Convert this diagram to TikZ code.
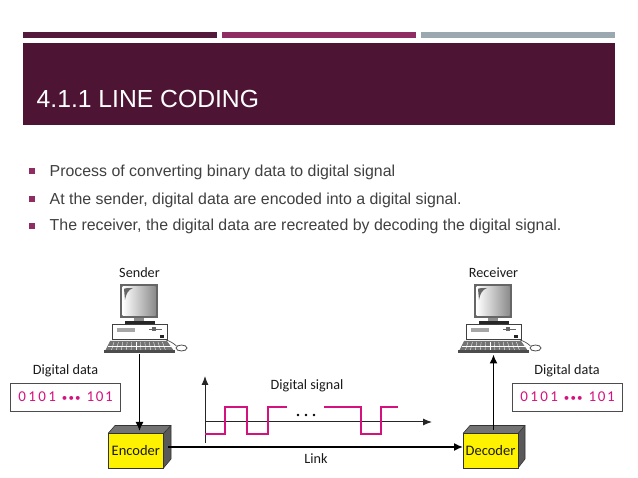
\documentclass[tikz,border=0pt]{standalone}
\usepackage{fontspec}
\setmainfont{Liberation Sans}
\newfontfamily\figfont{Carlito}
\usetikzlibrary{arrows.meta}
\definecolor{plum}{HTML}{4D1434}
\definecolor{plumbar}{HTML}{541A3C}
\definecolor{rose}{HTML}{8E2C63}
\definecolor{steel}{HTML}{9BA8B0}
\definecolor{bodytext}{HTML}{404040}
\definecolor{pinkline}{HTML}{D4127F}
\definecolor{boxyellow}{HTML}{FFF200}
\definecolor{figtext}{HTML}{1A1A1A}
\newcommand{\datatext}{0\hspace{2.4pt}1\hspace{2.4pt}0\hspace{2.4pt}1\hspace{6pt}{\fontsize{11}{11}\selectfont •\hspace{1.2pt}•\hspace{1.2pt}•}\hspace{6pt}1\hspace{1.6pt}0\hspace{1.6pt}1}
\tikzset{
  x=1pt,y=-1pt,
  bullettext/.style={anchor=west,inner sep=0pt,text=bodytext,font=\fontsize{15.9}{18}\selectfont},
  bulletmark/.style={fill=rose,draw=none,minimum size=6pt,inner sep=0pt},
  figlabel/.style={inner sep=0pt,text=figtext,font=\figfont\fontsize{14.2}{16}\selectfont},
  databox/.style={draw=black!70,line width=.8pt,minimum width=110pt,minimum height=28pt,inner sep=0pt,text=pinkline,font=\figfont\fontsize{15}{16}\selectfont},
  coder/.style={draw=black!80,line width=.8pt,fill=boxyellow,minimum width=55pt,minimum height=35pt,inner sep=0pt,text=figtext,font=\figfont\fontsize{14.5}{16}\selectfont},
  conn/.style={black,line width=1.5pt,-{Latex[length=9pt,width=8pt]}},
  thinconn/.style={black!85,line width=1pt,-{Latex[length=9pt,width=7pt]}},
  wave/.style={pinkline,line width=2pt}
}
\newcommand{\computer}[2]{%
 \begin{scope}[shift={(#1,0)}]
  \fill[black!60] (120,284) rectangle (158,318);
  \shade[left color=white,right color=black!45] (122.5,287) rectangle (155.5,316);
  \fill[black!60] (124,289) .. controls (124,288) and (130,288) .. (133,288) .. controls (128,290) and (126,294) .. (125,300) -- cycle;
  \fill[black!45] (134,318) rectangle (144,322);
  \fill[black!85] (125,321.5) rectangle (155,324.5);
  \draw[black!75,fill=white,line width=.9pt] (112,324) rectangle (167.5,339.5);
  \fill[black!35] (117,328) rectangle (135,332);
  \draw[black!60,line width=1pt] (149,329.5) -- (162,329.5);
  \fill[black!60] (152,327.5) rectangle (156,331.5);
  \fill[black!85] (160,335) rectangle (164,338);
  \fill[black!55] (110,341) -- (167,341) -- (174,351) -- (105,351) -- cycle;
  \foreach \k in {0,...,11}{\draw[white,line width=.35pt] (114+\k*4.4,342) -- (111.5+\k*4.9,350);}
  \draw[white,line width=.35pt] (108,346) -- (171,346);
  \fill[black!70] (104,350) rectangle (175,353.5);
  \draw[black!70,line width=.8pt,fill=white] (181.5,348) ellipse (5.5pt and 3pt);
  \draw[black!70,line width=.7pt] (166,340) .. controls (170,341) and (173,343) .. (176.5,346);
  \coordinate (#2) at (139.5,354.5);
 \end{scope}}
\begin{document}
\begin{tikzpicture}
\useasboundingbox (0,0) rectangle (638,478);
\fill[white] (0,0) rectangle (638,478);
\fill[plumbar] (23,32) rectangle (217,38);
\fill[rose] (222,32) rectangle (416,38);
\fill[steel] (421,32) rectangle (615,38);
\fill[plum] (23,43) rectangle (615,125.5);
\node[anchor=base west,inner sep=0pt,text=white,font=\fontsize{24.7}{28}\selectfont] (title) at (36.5,107.5) {4.1.1 LINE CODING};

\node[bulletmark] (b1) at (32,171) {};
\node[bulletmark] (b2) at (32,199.5) {};
\node[bulletmark] (b3) at (32,226) {};
\node[bullettext] (t1) at (49.5,172) {Process of converting binary data to digital signal};
\node[bullettext] (t2) at (49.5,200) {At the sender, digital data are encoded into a digital signal.};
\node[bullettext] (t3) at (49.5,226.5) {The receiver, the digital data are recreated by decoding the digital signal.};

\node[figlabel] (sender) at (139.5,273) {Sender};
\node[figlabel] (receiver) at (493.5,273) {Receiver};
\computer{0}{senderpc}
\computer{354}{receiverpc}

\node[figlabel] (ddl) at (65.5,371) {Digital data};
\node[figlabel] (ddr) at (567,371) {Digital data};
\node[databox] (boxl) at (65.5,397) {\datatext};
\node[databox] (boxr) at (567.5,397) {\datatext};

% Encoder / decoder
\fill[black!55] (108,433.5) -- (115,425.5) -- (171,425.5) -- (163.5,433.5) -- cycle;
\fill[black!65] (163.5,433.5) -- (171,425.5) -- (171,459) -- (163.5,468) -- cycle;
\draw[black!80,line width=.6pt] (108,433.5) -- (115,425.5) -- (171,425.5) -- (171,459) -- (163.5,468);
\draw[black!80,line width=.6pt] (171,425.5) -- (163.5,433.5);
\node[coder] (enc) at (135.8,450.8) {Encoder};
\fill[black!55] (463,433.5) -- (470,425.5) -- (525,425.5) -- (518,433.5) -- cycle;
\fill[black!65] (518,433.5) -- (525,425.5) -- (525,459) -- (518,468) -- cycle;
\draw[black!80,line width=.6pt] (463,433.5) -- (470,425.5) -- (525,425.5) -- (525,459) -- (518,468);
\draw[black!80,line width=.6pt] (525,425.5) -- (518,433.5);
\node[coder] (dec) at (490.5,450.8) {Decoder};

\coordinate (enctop) at (139.5,431);
\coordinate (dectop) at (493.5,430);
\coordinate (linkstart) at (168,447);
\coordinate (linkend) at (463,447);
\draw[conn] (senderpc) -- (enctop);
\draw[conn] (dectop) -- (receiverpc);
\draw[conn] (linkstart) -- (linkend);

% Signal
\coordinate (origin) at (205,443);
\coordinate (axtop) at (205,376);
\coordinate (axend) at (432,422);
\coordinate (axstart) at (205,422);
\draw[thinconn] (origin) -- (axtop);
\draw[thinconn] (axstart) -- (axend);
\draw[wave] (205,434) -- (225,434) -- (225,407) -- (246.5,407) -- (246.5,434) -- (267.5,434) -- (267.5,407) -- (287,407);
\draw[wave] (324,407) -- (360.5,407) -- (360.5,434) -- (380.5,434) -- (380.5,407) -- (398,407);
\foreach \x in {298,306,314}{\fill[black] (\x,415) circle (1.4pt);}
\node[figlabel] (sig) at (307,385.5) {Digital signal};
\node[figlabel] (link) at (316,459) {Link};
\end{tikzpicture}
\end{document}
